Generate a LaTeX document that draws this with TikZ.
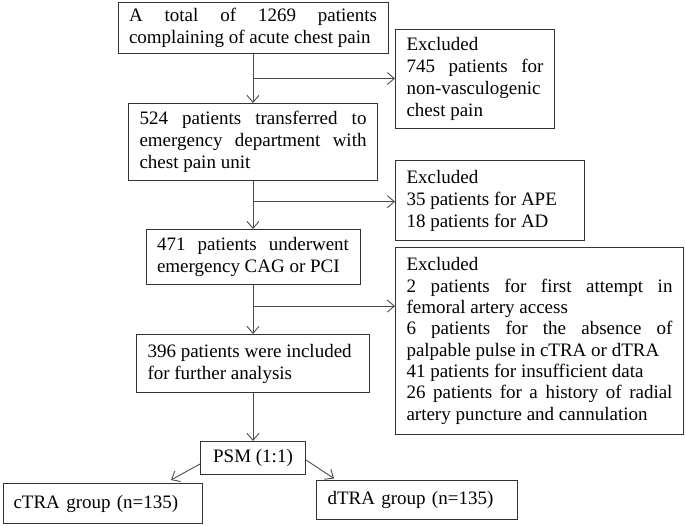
\documentclass[tikz,border=0pt]{standalone}
\usepackage{fontspec}
\setmainfont{Liberation Serif}
\usetikzlibrary{arrows.meta,calc}
\tolerance=9999
\hbadness=10000
\begin{document}
\begin{tikzpicture}[x=1pt,y=-1pt,line cap=butt,line join=miter,
		>={Straight Barb[length=7pt,width=12pt]},
		font=\fontsize{19}{22}\selectfont]
	\tikzset{box/.style={draw=black!80,line width=1pt,anchor=north,inner xsep=11pt,inner ysep=2pt,align=justify},
		arr/.style={->,draw=black!70,line width=0.9pt}
	}
	\useasboundingbox (0,0) rectangle (685,525);
	\node[box,text width=248pt,minimum height=51pt] (total) at (253,2) {A total of 1269 patients\linebreak complaining of acute chest pain};
	\node[box,anchor=north west,text width=137pt,minimum height=99pt] (excl1) at (395,29) {Excluded\\ 745 patients for\linebreak non-vasculogenic\linebreak chest pain};
	\node[box,text width=227pt,minimum height=77pt] (transfer) at (253,103) {524 patients transferred to\linebreak emergency department with\linebreak chest pain unit};
	\node[box,anchor=north west,text width=167pt,minimum height=80pt] (excl2) at (395,160) {Excluded\\ 35 patients for APE\\ 18 patients for AD};
	\node[box,text width=192pt,minimum height=55pt] (cag) at (253,229) {471 patients underwent\linebreak emergency CAG or PCI};
	\node[box,anchor=north west,text width=266pt,minimum height=187pt,font=\fontsize{19}{21.3}\selectfont] (excl3) at (395,247) {Excluded\\ 2 patients for first attempt in\linebreak femoral artery access\\ 6 patients for the absence of\linebreak palpable pulse in cTRA or dTRA\\ 41 patients for insufficient data\\ 26 patients for a history of radial\linebreak artery puncture and cannulation};
	\node[box,text width=211pt,minimum height=58pt] (incl) at (253,334) {396 patients were included\\ for further analysis};
	\node[box,align=center,inner xsep=4pt,minimum width=105pt,minimum height=33pt] (psm) at (253,441) {PSM (1:1)};
	\node[box,anchor=north west,align=left,inner xsep=10pt,text width=179pt,minimum height=40pt] (ctra) at (3,483) {cTRA group (n=135)};
	\node[box,anchor=north west,align=left,text width=179pt,minimum height=39pt] (dtra) at (316,480) {dTRA group (n=135)};
	\coordinate (b1) at ($(total.south)!.5!(transfer.north)$);
	\coordinate (b2) at ($(transfer.south)!.43!(cag.north)$);
	\coordinate (b3) at ($(cag.south)!.43!(incl.north)$);
	\draw[arr] (total) -- (transfer);
	\draw[arr] (b1) -- (b1 -| excl1.west);
	\draw[arr] (transfer) -- (cag);
	\draw[arr] (b2) -- (b2 -| excl2.west);
	\draw[arr] (cag) -- (incl);
	\draw[arr] (b3) -- (b3 -| excl3.west);
	\draw[arr] (incl) -- (psm);
	\draw[arr] ([yshift=-6pt]psm.west) -- ([xshift=-32pt,yshift=3pt]ctra.north east);
	\draw[arr] ([yshift=-2pt]psm.east) -- ([xshift=18pt,yshift=1.5pt]dtra.north west);
\end{tikzpicture}
\end{document}
